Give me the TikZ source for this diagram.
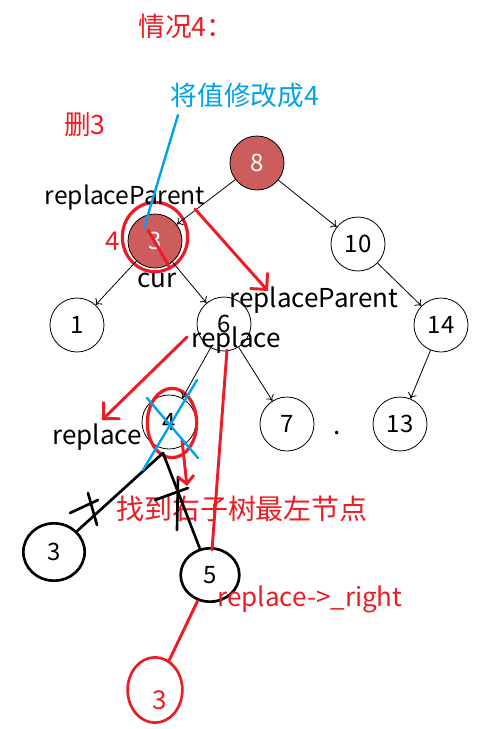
\documentclass[tikz,border=0pt]{standalone}
\usepackage{fontspec}
\setmainfont{Noto Sans CJK SC}
\usetikzlibrary{shapes, arrows.meta, positioning}
\newlength{\nodesize}
\setlength{\nodesize}{40.5pt}
\definecolor{penred}{RGB}{237,28,36}
\definecolor{penblue}{RGB}{0,162,232}
\definecolor{delfill}{RGB}{205,92,92}
\tikzset{treenode/.style={draw, circle, line width=0.6pt, minimum size=\nodesize, inner sep=0pt}}
\tikzset{delnode/.style={treenode, fill=delfill, text=white}}
\tikzset{handnode/.style={draw, ellipse, line width=2pt, inner sep=0pt}}
\tikzset{ring/.style={draw=penred, ellipse, line width=2.4pt, inner sep=0pt}}
\tikzset{link/.style={-{To[length=4pt,width=7pt]}, line width=0.6pt}}
\tikzset{redpen/.style={draw=penred, line width=2.2pt, line cap=round}}
\tikzset{redarrow/.style={redpen, -{Straight Barb[length=9pt,width=18pt]}}}
\tikzset{bluepen/.style={draw=penblue, line width=1.8pt, line cap=round}}
\tikzset{blackpen/.style={draw=black, line width=2pt, line cap=round}}
\tikzset{tag/.style={inner sep=0pt, font=\fontsize{19.5}{21}\selectfont}}
\tikzset{note/.style={inner sep=0pt, text=penred, font=\fontsize{20}{22}\selectfont}}

\begin{document}
\begin{tikzpicture}[x=0.75pt, y=-0.75pt, font=\fontsize{18}{20}\selectfont]
	\useasboundingbox (0,0) rectangle (481,729);
	
	%%% NODES %%%
	
	% TREE
	\node[delnode] at (257,163) (n8) {8};
	\node[delnode] at (155,241) (n3) {3};
	\node[treenode] at (358,244) (n10) {10};
	\node[treenode] at (77,325) (n1) {1};
	\node[treenode] at (224,324) (n6) {6};
	\node[treenode] at (441,325) (n14) {14};
	\node[treenode] at (169,422) (n4) {4};
	\node[treenode] at (287,424) (n7) {7};
	\node[treenode] at (400,424) (n13) {13};
	
	% HAND DRAWN NODES
	\node[handnode, minimum width=46pt, minimum height=43pt] at (54,552) (b3) {3};
	\node[handnode, minimum width=44pt, minimum height=40pt] at (210,575) (n5) {5};
	\node[handnode, draw=penred, minimum width=41pt, minimum height=49pt] at (155,690) (r3) {};
	\node[tag, text=penred] at (160,700) (r3text) {3};
	
	% RINGS
	\node[ring, minimum width=49pt, minimum height=52pt] at (155,237) (ring3) {};
	\node[ring, minimum width=37pt, minimum height=52pt] at (172,423) (ring4) {};
	
	% LABELS
	\node[note] at (186,26) (case) {情况4：};
	\node[note, text=penblue] at (245,95) (setval) {将值修改成4};
	\node[note] at (85,125) (del) {删3};
	\node[tag, font=\fontsize{18.5}{20}\selectfont] at (125,198) (rp1) {replaceParent};
	\node[tag, text=penred] at (113,241) (four) {4};
	\node[tag] at (157,280) (cur) {cur};
	\node[tag] at (314,300) (rp2) {replaceParent};
	\node[tag] at (236,340) (rep1) {replace};
	\node[tag] at (97,437) (rep2) {replace};
	\node[tag] at (337,433) (dot) {.};
	\node[note, font=\fontsize{21}{23}\selectfont] at (242,509) (find) {找到右子树最左节点};
	\node[tag, text=penred] at (310,599) (repright) {replace->\_right};
	
	%%% EXTRA ARROW NODES %%%
	\node[coordinate] at (195,209) (a0) {};
	\node[coordinate] at (268,291) (a1) {};
	\node[coordinate] at (187,337) (a2) {};
	\node[coordinate] at (102,420) (a3) {};
	\node[coordinate] at (182,440) (a4) {};
	\node[coordinate] at (187,486) (a5) {};
	\node[coordinate] at (227,350) (a6) {};
	\node[coordinate] at (212,550) (a7) {};
	\node[coordinate] at (148,230) (a8) {};
	\node[coordinate] at (170,268) (a9) {};
	\node[coordinate] at (178,115) (c0) {};
	\node[coordinate] at (144,228) (c1) {};
	\node[coordinate] at (147,398) (c2) {};
	\node[coordinate] at (198,458) (c3) {};
	\node[coordinate] at (197,380) (c4) {};
	\node[coordinate] at (143,470) (c5) {};
	\node[coordinate] at (163,453) (k0) {};
	\node[coordinate] at (88,493) (k1) {};
	\node[coordinate] at (97,525) (k2) {};
	\node[coordinate] at (70,513) (k3) {};
	\node[coordinate] at (98,500) (k4) {};
	\node[coordinate] at (155,500) (k5) {};
	\node[coordinate] at (188,488) (k6) {};
	\node[coordinate] at (178,477) (k7) {};
	\node[coordinate] at (177,530) (k8) {};
	
	%%% ARROWS %%%
	
	% TREE
	\draw[link] (n8) -- (n3);
	\draw[link] (n8) -- (n10);
	\draw[link] (n3) -- (n1);
	\draw[link] (n3) -- (n6);
	\draw[link] (n10) -- (n14);
	\draw[link] (n6) -- (n4);
	\draw[link] (n6) -- (n7);
	\draw[link] (n14) -- (n13);
	
	% BLACK PEN
	\draw[blackpen] (k0) -- (b3);
	\draw[blackpen] (k0) -- (n5);
	\draw[blackpen] (k1) -- (k2);
	\draw[blackpen] (k3) -- (k4);
	\draw[blackpen] (k5) -- (k6);
	\draw[blackpen] (k7) -- (k8);
	
	% RED PEN
	\draw[redarrow] (a0) -- (a1);
	\draw[redarrow] (a2) -- (a3);
	\draw[redpen, -{Straight Barb[length=6pt,width=12pt]}] (a4) -- (a5);
	\draw[redpen] (a6) -- (a7);
	\draw[redpen] (a8) -- (a9);
	\draw[redpen] (n5) -- (r3);
	
	% BLUE PEN
	\draw[bluepen] (c0) -- (c1);
	\draw[bluepen] (c2) -- (c3);
	\draw[bluepen] (c4) -- (c5);
	
\end{tikzpicture}
\end{document}
